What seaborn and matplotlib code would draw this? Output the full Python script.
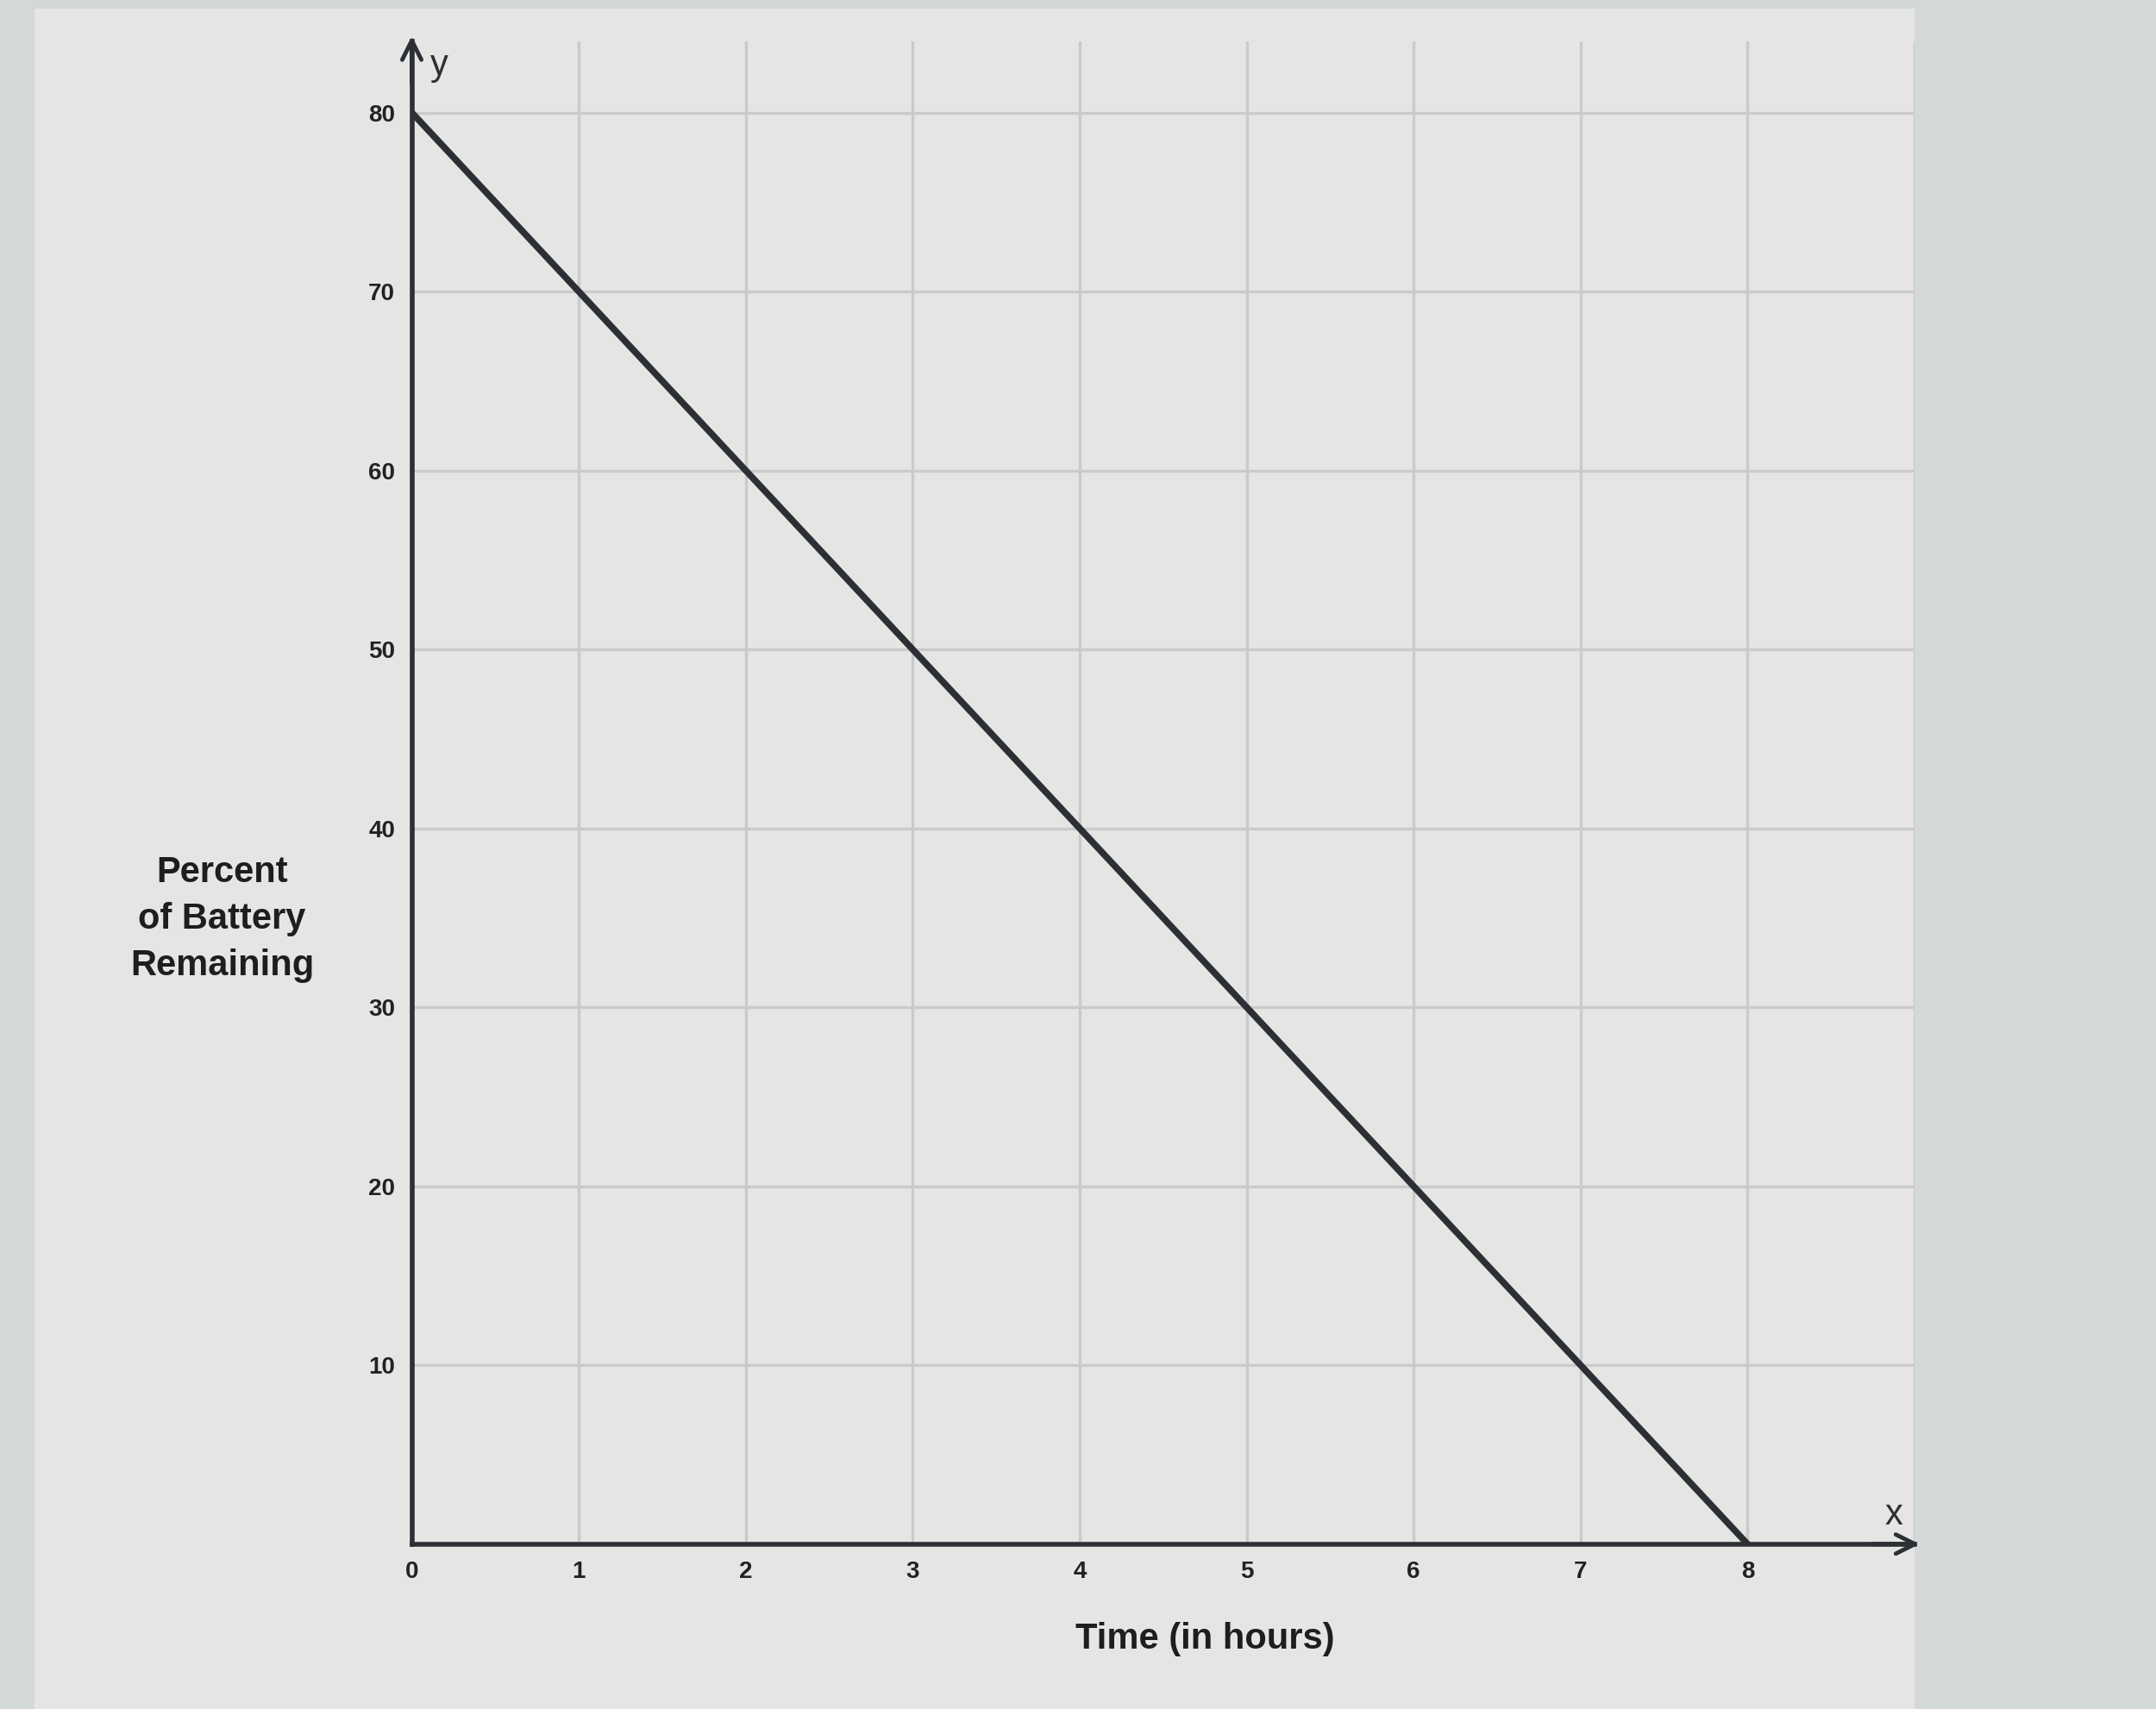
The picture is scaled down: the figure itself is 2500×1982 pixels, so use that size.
import pandas as pd
import seaborn as sns
import matplotlib.pyplot as plt
from matplotlib.patches import Rectangle

# values
hours = [0, 1, 2, 3, 4, 5, 6, 7, 8]
battery = [80, 70, 60, 50, 40, 30, 20, 10, 0]
x_ticks = [0, 1, 2, 3, 4, 5, 6, 7, 8]
y_ticks = [10, 20, 30, 40, 50, 60, 70, 80]
x_grid = [1, 2, 3, 4, 5, 6, 7, 8, 9]
y_grid = [10, 20, 30, 40, 50, 60, 70, 80]

df = pd.DataFrame({'hours': hours, 'battery': battery})

sns.set_theme(style='white')
plt.rcParams['font.family'] = ['Liberation Sans', 'DejaVu Sans']

fig = plt.figure(figsize=(25, 19.82), dpi=100, facecolor='#d3d9d8')
# paper sheet behind the graph
fig.patches.append(Rectangle((0.016, 0.0), 0.872, 0.995, transform=fig.transFigure,
                             facecolor='#e5e6e4', edgecolor='none', zorder=-1))

ax = fig.add_axes([0.191, 0.0965, 0.697, 0.8795])
ax.set_facecolor('#e5e6e4')

sns.lineplot(data=df, x='hours', y='battery', ax=ax, color='#2c3034',
             linewidth=5.5, zorder=5)

ax.set_xlim(0, 9)
ax.set_ylim(0, 84)
ax.set_xticks(x_ticks)
ax.set_yticks(y_ticks)
ax.xaxis.remove_overlapping_locs = False
ax.yaxis.remove_overlapping_locs = False
ax.set_xticks(x_grid, minor=True)
ax.set_yticks(y_grid, minor=True)
ax.grid(False, which='major')
ax.grid(True, which='minor', color='#c9cac9', linewidth=2.4)
ax.set_axisbelow(True)
ax.tick_params(axis='both', which='both', length=0, labelsize=20,
               labelcolor='#222222')
ax.tick_params(axis='x', pad=14)
ax.tick_params(axis='y', pad=14)
for lab in ax.get_xticklabels() + ax.get_yticklabels():
    lab.set_fontweight('bold')

for side in ['top', 'right']:
    ax.spines[side].set_visible(False)
for side in ['left', 'bottom']:
    ax.spines[side].set_color('#2c3034')
    ax.spines[side].set_linewidth(4)
    ax.spines[side].set_zorder(6)

# axis arrows
ax.annotate('', xy=(1.005, 0), xytext=(0.97, 0), xycoords='axes fraction',
            arrowprops=dict(arrowstyle='->', color='#2c3034', lw=3.5,
                            mutation_scale=40))
ax.annotate('', xy=(0, 1.005), xytext=(0, 0.97), xycoords='axes fraction',
            arrowprops=dict(arrowstyle='->', color='#2c3034', lw=3.5,
                            mutation_scale=40))
ax.text(0.992, 0.008, 'x', transform=ax.transAxes, fontsize=30,
        color='#2c3034', ha='right', va='bottom')
ax.text(0.012, 0.995, 'y', transform=ax.transAxes, fontsize=30,
        color='#2c3034', ha='left', va='top')

ax.set_xlabel('')
ax.set_ylabel('')
fig.text(0.559, 0.041, 'Time (in hours)', fontsize=30, fontweight='bold',
         ha='center', va='center', color='#1e1e1e')
fig.text(0.103, 0.462, 'Percent\nof Battery\nRemaining', fontsize=30,
         fontweight='bold', ha='center', va='center', color='#1e1e1e',
         linespacing=1.45)

fig.savefig('out.png', dpi=100, facecolor=fig.get_facecolor())
